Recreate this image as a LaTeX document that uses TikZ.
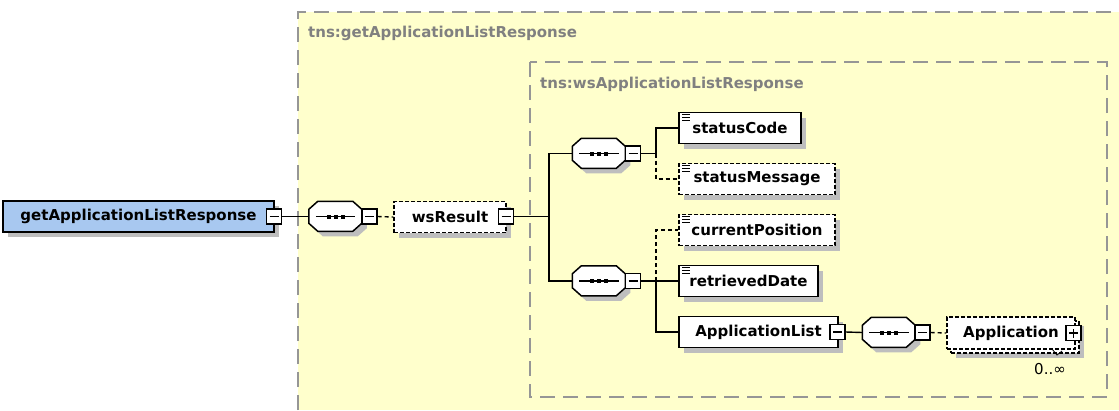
\documentclass[tikz,border=0pt]{standalone}
\usepackage{fontspec}
\setmainfont{DejaVu Sans}
\usetikzlibrary{calc,shadows}
\definecolor{paleyellow}{RGB}{255,255,204}
\definecolor{framegray}{RGB}{150,150,150}
\definecolor{labelgray}{RGB}{128,128,128}
\definecolor{shadowgray}{RGB}{190,190,190}
\definecolor{rootblue}{RGB}{168,200,240}

\tikzset{
  elem/.style={draw, line width=1.5pt, fill=white, minimum height=31pt, inner sep=0pt,
    font=\fontsize{15}{18}\selectfont\bfseries},
  withshadow/.style={drop shadow={shadow xshift=5pt, shadow yshift=-5pt, fill=shadowgray, opacity=1}},
  optional/.style={dash pattern=on 4pt off 2pt},
  simple/.style={path picture={
    \foreach \k in {2,5,8}
      \draw[solid, line width=1pt] ([xshift=3pt, yshift=-\k pt]path picture bounding box.north west) -- ++(8pt,0pt);}},
  minusbox/.style={draw, solid, line width=1.2pt, fill=white, minimum size=15pt, inner sep=0pt,
    path picture={\draw[line width=1.2pt] ([xshift=3pt]path picture bounding box.west) -- ([xshift=-3pt]path picture bounding box.east);}},
  plusbox/.style={minusbox,
    path picture={\draw[line width=1.2pt] ([xshift=3pt]path picture bounding box.west) -- ([xshift=-3pt]path picture bounding box.east);
                  \draw[line width=1.2pt] ([yshift=3pt]path picture bounding box.south) -- ([yshift=-3pt]path picture bounding box.north);}},
  seqbox/.style={minimum width=53pt, minimum height=30pt, inner sep=0pt},
  link/.style={line width=1.4pt},
  optlink/.style={link, dash pattern=on 4pt off 3pt},
  typebox/.style={draw=framegray, line width=1.6pt, dash pattern=on 15pt off 8pt},
  typelabel/.style={text=labelgray, anchor=west, inner sep=0pt, font=\fontsize{15}{18}\selectfont\bfseries}
}

% octagon of a sequence compositor, drawn round a seqbox node
\newcommand{\seqshape}[1]{%
  \fill[shadowgray] ($(#1.north west)+(14,5)$) -- ++(35,0) -- ++(9,8) -- ++(0,14) -- ++(-9,8) -- ++(-35,0) -- ++(-9,-8) -- ++(0,-14) -- cycle;
  \draw[line width=1.5pt, fill=white] ($(#1.north west)+(9,0)$) -- ++(35,0) -- ++(9,8) -- ++(0,14) -- ++(-9,8) -- ++(-35,0) -- ++(-9,-8) -- ++(0,-14) -- cycle;
  \draw[line width=1.3pt] ($(#1.west)+(7,0)$) -- ($(#1.east)+(-7,0)$);
  \foreach \dx in {-7,0,7}
    \fill ($(#1.center)+(\dx-2,-2)$) rectangle ++(4,4);
}

\begin{document}
\begin{tikzpicture}[x=1pt, y=-1pt]
    \useasboundingbox (0,0) rectangle (1119,410);

    % complex type frames
    \fill[paleyellow] (298,12) rectangle (1119,410);
    \draw[typebox] (298,410) -- (298,12) -- (1119,12);
    \node[typelabel] (outerlbl) at (308,33) {tns:getApplicationListResponse};
    \draw[typebox] (530,62) rectangle (1107,397);
    \node[typelabel] (innerlbl) at (540,84) {tns:wsApplicationListResponse};

    % root element and first sequence
    \node[elem, withshadow, fill=rootblue, minimum width=271pt] (root) at (138.5,216.5) {getApplicationListResponse};
    \node[minusbox] (rootm) at (274,216.5) {};
    \node[seqbox] (seq1) at (335.5,216.5) {};
    \seqshape{seq1}
    \node[minusbox] (seq1m) at (369.5,216.5) {};
    \node[elem, withshadow, optional, minimum width=112pt] (wsres) at (450,217) {wsResult};
    \node[minusbox] (wsresm) at (506,216.5) {};

    % inner sequences
    \node[seqbox] (seq2) at (599,153.5) {};
    \seqshape{seq2}
    \node[minusbox] (seq2m) at (633,153.5) {};
    \node[seqbox] (seq3) at (599,281) {};
    \seqshape{seq3}
    \node[minusbox] (seq3m) at (633,281) {};

    % child elements
    \node[elem, withshadow, simple, minimum width=122pt] (statuscode) at (740,128) {statusCode};
    \node[elem, withshadow, simple, optional, minimum width=156pt] (statusmsg) at (757,179) {statusMessage};
    \node[elem, withshadow, simple, optional, minimum width=156pt] (curpos) at (757,230) {currentPosition};
    \node[elem, withshadow, simple, minimum width=139pt] (retrdate) at (748.5,281) {retrievedDate};
    \node[elem, withshadow, minimum width=159pt] (applist) at (758.5,332) {ApplicationList};
    \node[minusbox] (applistm) at (837.5,332) {};

    % application list sequence
    \node[seqbox] (seq4) at (889,332.5) {};
    \seqshape{seq4}
    \node[minusbox] (seq4m) at (922.5,332.5) {};
    \node[elem, withshadow, optional, minimum width=128pt, minimum height=32pt] (appback) at (1015,337) {};
    \node[elem, optional, minimum width=128pt, minimum height=32pt] (app) at (1011,333) {Application};
    \node[plusbox] (appp) at (1073.5,333) {};
    \draw[line width=0.8pt] (1052,349) -- (1057,355) -- (1062,351);
    \node[inner sep=0pt, font=\fontsize{15}{18}\selectfont] (card) at (1050,369) {0..∞};

    % connectors
    \draw[link] (rootm.east) -- (seq1.west);
    \draw[optlink] (seq1m.east) -- (wsres.west);
    \coordinate (fork1) at (549,216.5);
    \draw[link] (wsresm.east) -- (fork1);
    \draw[link] (seq2.west) -| (fork1) |- (seq3.west);
    \coordinate (fork2) at (656,153.5);
    \draw[link] (seq2m.east) -- (fork2);
    \draw[link] (statuscode.west) -| (fork2);
    \draw[optlink] (fork2) |- (statusmsg.west);
    \coordinate (fork3) at (656,281);
    \draw[link] (seq3m.east) -- (retrdate.west);
    \draw[optlink] (fork3) |- (curpos.west);
    \draw[link] (fork3) |- (applist.west);
    \draw[link] (applistm.east) -- (seq4.west);
    \draw[optlink] (seq4m.east) -- (app.west);
\end{tikzpicture}
\end{document}
